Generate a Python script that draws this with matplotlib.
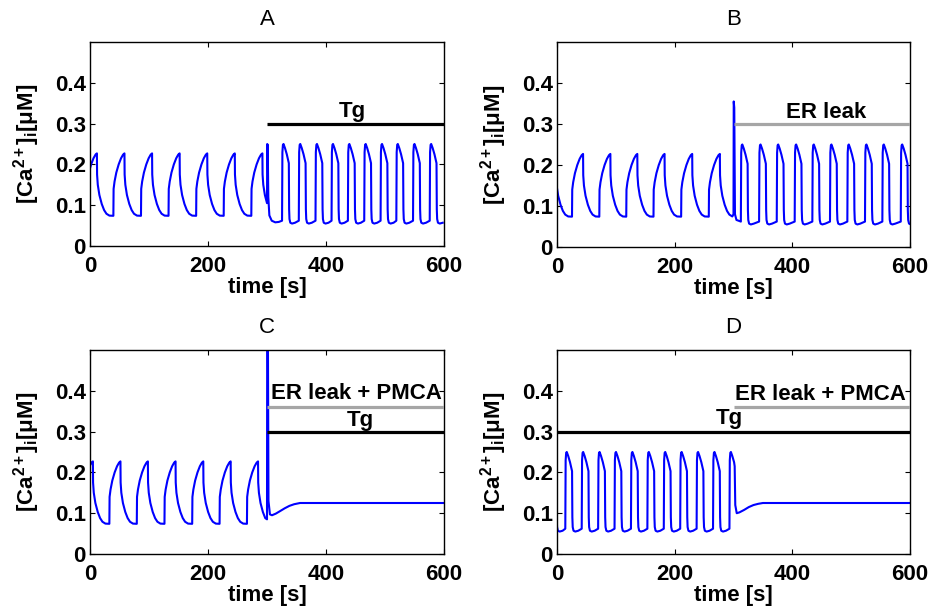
import numpy as np
import matplotlib
matplotlib.use('Agg')
import matplotlib.pyplot as plt

plt.rcParams['font.family'] = ['Liberation Sans', 'DejaVu Sans']
plt.rcParams['mathtext.fontset'] = 'custom'
plt.rcParams['mathtext.rm'] = 'Liberation Sans:bold'
plt.rcParams['mathtext.it'] = 'Liberation Sans:bold'
plt.rcParams['mathtext.bf'] = 'Liberation Sans:bold'
plt.rcParams['mathtext.default'] = 'rm'

# ---- one slow (control) Ca2+ spike: time from onset of rise [s], [Ca2+]i [uM]
SLOW_T = [0, 0.4, 2, 5, 9, 13, 16.5, 18.8, 19.1, 20.3, 23, 27, 31, 35, 40]
SLOW_C = [0.074, 0.14, 0.158, 0.18, 0.2, 0.215, 0.224, 0.227, 0.175, 0.15, 0.125, 0.103, 0.088, 0.079, 0.0745]
# ---- one fast (treated) Ca2+ spike
FAST_T = [0, 0.6, 1.5, 2.5, 5, 8, 10.5, 11.5, 12.0, 12.6, 14, 17, 22]
FAST_C = [0.062, 0.23, 0.248, 0.25, 0.24, 0.225, 0.21, 0.203, 0.09, 0.066, 0.057, 0.055, 0.057]

# ---- spike onset times
A_SLOW_ON = [-7.1, 39.6, 86.4, 133.1, 179.9, 226.6, 273.4]
A_FAST_ON = [325.5, 353.9, 382.2, 409.4, 437.1, 464.8, 492.5, 519.2, 547.5, 575.8]
B_SLOW_ON = [-21.0, 25.5, 71.9, 117.7, 164.0, 211.0, 258.0]
B_FAST_ON = [312.5, 343.5, 373.5, 404.0, 434.0, 464.0, 493.5, 523.5, 553.0, 584.3]
C_SLOW_ON = [-13.9, 32.8, 79.3, 126.2, 173.2, 219.6, 266.0]
D_FAST_ON = [-12.5, 14.1, 42.0, 69.9, 97.8, 125.7, 153.6, 181.5, 209.4, 237.3, 265.2]

# ---- transitions at t = 300 s
A_TR_T = [300, 300.4, 301.2, 302.2, 304, 308, 314, 320]
A_TR_C = [0.105, 0.25, 0.248, 0.12, 0.075, 0.062, 0.058, 0.059]
B_TR_T = [300, 300.4, 301.3, 302.5, 305, 309]
B_TR_C = [0.08, 0.355, 0.34, 0.08, 0.066, 0.064]
C_TR_T = [300, 300.4, 301.4, 302.5, 305, 308.5, 315, 322, 330, 338, 346, 356, 600]
C_TR_C = [0.085, 0.6, 0.6, 0.13, 0.097, 0.095, 0.099, 0.105, 0.112, 0.118, 0.122, 0.125, 0.125]
D_TR_T = [293.1, 293.7, 294.6, 295.6, 298, 301, 302, 303, 305.5, 310, 318, 326, 334, 342, 350, 600]
D_TR_C = [0.062, 0.23, 0.248, 0.25, 0.24, 0.225, 0.215, 0.12, 0.1, 0.102, 0.108, 0.115, 0.12, 0.123, 0.125, 0.125]

# ---- treatment bars: (start, end, level, kind)
BARS = {
    'A': [(300, 600, 0.30, 'k')],
    'B': [(300, 600, 0.30, 'g')],
    'C': [(300, 600, 0.36, 'g'), (300, 600, 0.30, 'k')],
    'D': [(0, 600, 0.30, 'k'), (300, 600, 0.36, 'g')],
}
# ---- labels: (text, x, baseline y)
LABELS = {
    'A': [('Tg', 444, 0.317)],
    'B': [('ER leak', 458, 0.315)],
    'C': [('ER leak + PMCA', 451.5, 0.3795), ('Tg', 457.8, 0.314)],
    'D': [('ER leak + PMCA', 447.6, 0.378), ('Tg', 293, 0.318)],
}

X_TICKS = [0, 200, 400, 600]
Y_TICKS = [0, 0.1, 0.2, 0.3, 0.4]


def cycles(onsets, tt, cc):
    t, c = [], []
    for o in onsets:
        t.extend(o + np.asarray(tt, float))
        c.extend(cc)
    return np.array(t), np.array(c)


def trace(pre=None, tr=None, post=None):
    ts, cs = [], []
    if pre is not None:
        t, c = pre
        m = t < 300
        ts.append(t[m]); cs.append(c[m])
    ts.append(np.array(tr[0], float)); cs.append(np.array(tr[1], float))
    if post is not None:
        ts.append(post[0]); cs.append(post[1])
    return np.concatenate(ts), np.concatenate(cs)


traces = {
    'A': trace(cycles(A_SLOW_ON, SLOW_T, SLOW_C), (A_TR_T, A_TR_C), cycles(A_FAST_ON, FAST_T, FAST_C)),
    'B': trace(cycles(B_SLOW_ON, SLOW_T, SLOW_C), (B_TR_T, B_TR_C), cycles(B_FAST_ON, FAST_T, FAST_C)),
    'C': trace(cycles(C_SLOW_ON, SLOW_T, SLOW_C), (C_TR_T, C_TR_C)),
    'D': trace(cycles(D_FAST_ON, FAST_T, FAST_C), (D_TR_T, D_TR_C)),
}

W, H = 931, 611
fig = plt.figure(figsize=(W / 100, H / 100), dpi=100)
boxes = {
    'A': (90, 42, 444, 246),
    'B': (557, 42, 910, 247),
    'C': (90, 350, 444, 554),
    'D': (557, 350, 910, 554),
}
colors = {'k': 'black', 'g': '#a6a6a6'}
FS = 16

for key, (x0, y0, x1, y1) in boxes.items():
    ax = fig.add_axes([x0 / W, 1 - y1 / H, (x1 - x0) / W, (y1 - y0) / H])
    t, c = traces[key]
    ax.plot(t, c, color='#0000ff', lw=1.5, solid_joinstyle='round', zorder=2)
    for (s, e, lev, kind) in BARS[key]:
        ax.plot([s, e], [lev, lev], color=colors[kind], lw=2.3, solid_capstyle='butt', zorder=3)
    for (txt, xx, yy) in LABELS[key]:
        ax.text(xx, yy, txt, ha='center', va='baseline', fontsize=FS, fontweight='bold', zorder=4)
    ax.set_xlim(0, 600)
    ax.set_ylim(0, 0.5)
    ax.set_xticks(X_TICKS)
    ax.set_xticklabels([str(v) for v in X_TICKS])
    ax.set_yticks(Y_TICKS)
    ax.set_yticklabels(['0' if v == 0 else f'{v:.1f}' for v in Y_TICKS])
    ax.tick_params(direction='in', length=3.5, width=0.8, top=True, right=True,
                   labelsize=FS)
    ax.tick_params(axis='x', pad=7)
    ax.tick_params(axis='y', pad=3)
    for lab in ax.get_xticklabels() + ax.get_yticklabels():
        lab.set_fontweight('bold')
    for sp in ax.spines.values():
        sp.set_linewidth(1.0)
    ax.set_xlabel('time [s]', fontsize=FS, fontweight='bold', labelpad=0)
    ax.set_ylabel('[Ca$^{2+}$]$_{i}$[μM]', fontsize=FS, fontweight='bold', labelpad=9)
    ax.set_title(key, fontsize=FS, pad=12.5)

fig.savefig('out.png', dpi=100)
